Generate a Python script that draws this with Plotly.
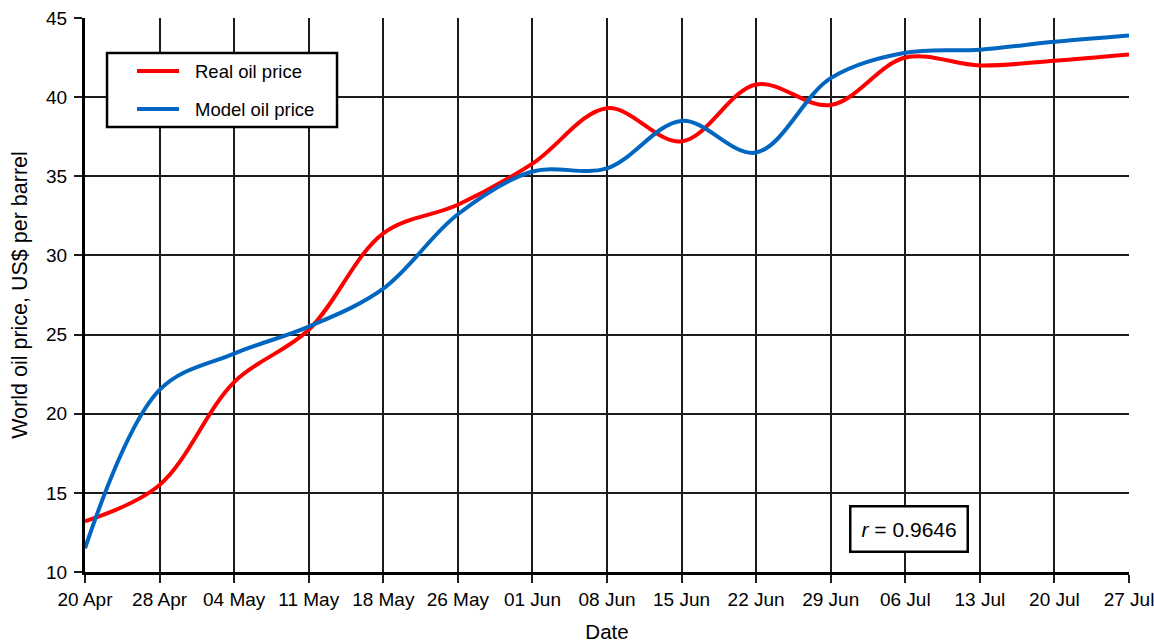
import plotly.graph_objects as go

# Weekly dates on the category axis
dates = ["20 Apr", "28 Apr", "04 May", "11 May", "18 May", "26 May", "01 Jun",
         "08 Jun", "15 Jun", "22 Jun", "29 Jun", "06 Jul", "13 Jul", "20 Jul", "27 Jul"]

# World oil price, US$ per barrel
real_price = [13.2, 15.5, 22.0, 25.3, 31.4, 33.2, 35.8,
              39.3, 37.2, 40.8, 39.5, 42.5, 42.0, 42.3, 42.7]
model_price = [11.5, 21.5, 23.8, 25.5, 27.9, 32.6, 35.3,
               35.5, 38.5, 36.5, 41.2, 42.8, 43.0, 43.5, 43.9]

y_ticks = [10, 15, 20, 25, 30, 35, 40, 45]
r_value = 0.9646

series = [
    ("Real oil price", real_price, "#ff0000"),
    ("Model oil price", model_price, "#0066c0"),
]

FONT = "Arial, Liberation Sans, Helvetica, sans-serif"
GRID = "#1c1c1c"

fig = go.Figure()
for name, values, color in series:
    fig.add_trace(go.Scatter(
        x=dates, y=values, name=name, mode="lines",
        line=dict(color=color, width=4, shape="spline", smoothing=1.0)))

# Boxed legend in the upper-left corner of the plot area
shapes = [dict(type="rect", xref="paper", yref="paper",
               x0=0.0211, x1=0.2414, y0=0.8032, y1=0.9368,
               line=dict(color="black", width=2.5), fillcolor="white",
               layer="above")]
annotations = []
legend_rows = [0.9043, 0.8357]
for (name, _, color), ly in zip(series, legend_rows):
    shapes.append(dict(type="line", xref="paper", yref="paper",
                       x0=0.0498, x1=0.0901, y0=ly, y1=ly,
                       line=dict(color=color, width=4), layer="above"))
    annotations.append(dict(x=0.1034, y=ly, xref="paper", yref="paper",
                            xanchor="left", yanchor="middle", text=name,
                            showarrow=False, font=dict(size=18.5, family=FONT)))

# Correlation coefficient box
annotations.append(dict(
    x=0.789, y=0.078, xref="paper", yref="paper",
    xanchor="center", yanchor="middle",
    text=f"<i>r</i> = {r_value:.4f}", showarrow=False,
    font=dict(size=21, family=FONT), bgcolor="white",
    bordercolor="black", borderwidth=2.5, borderpad=10,
))

fig.update_layout(
    width=1154, height=643,
    margin=dict(l=85, r=25, t=18, b=71, autoexpand=False),
    paper_bgcolor="white", plot_bgcolor="white",
    font=dict(family=FONT, size=19, color="black"),
    showlegend=False,
    shapes=shapes,
    annotations=annotations,
)

fig.update_xaxes(
    type="category", range=[0, len(dates) - 1], automargin=False,
    showgrid=True, gridcolor=GRID, gridwidth=2,
    showline=True, linecolor="black", linewidth=3,
    ticks="outside", ticklen=8, tickwidth=2, tickcolor=GRID,
    tickfont=dict(size=19), tickangle=0, ticklabelstandoff=0,
    title=dict(text="Date", font=dict(size=20.5), standoff=25),
    zeroline=False,
)
fig.update_yaxes(
    range=[10, 45], tickvals=y_ticks, automargin=False,
    showgrid=True, gridcolor=GRID, gridwidth=2,
    showline=True, linecolor="black", linewidth=3,
    ticks="outside", ticklen=8, tickwidth=2, tickcolor=GRID,
    tickfont=dict(size=19), ticklabelstandoff=3,
    title=dict(text="World oil price, US$ per barrel", font=dict(size=21.5), standoff=13),
    zeroline=False,
)

fig.write_html("out.html")
